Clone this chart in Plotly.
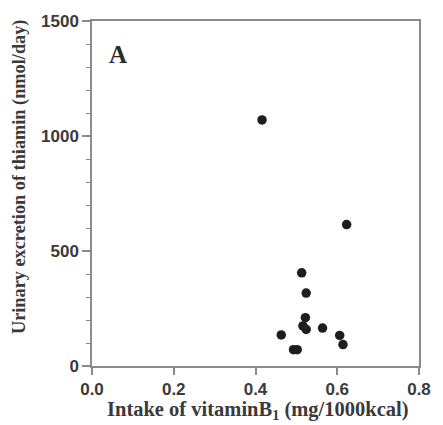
import plotly.graph_objects as go

intake = [0.416, 0.623, 0.513, 0.524, 0.522, 0.516, 0.524, 0.564, 0.463, 0.606, 0.614, 0.493, 0.502]
excretion = [1070, 615, 405, 317, 210, 174, 159, 165, 135, 133, 93, 71, 71]

x_ticks = [0.0, 0.2, 0.4, 0.6, 0.8]
x_labels = ["0.0", "0.2", "0.4", "0.6", "0.8"]
y_ticks = [0, 500, 1000, 1500]
y_labels = ["0", "500", "1000", "1500"]

W, H = 443, 425
L, R, T, B = 92, 17, 21, 59
pw, ph = W - L - R, H - T - B

fig = go.Figure()
fig.add_trace(go.Scatter(
    x=intake, y=excretion, mode="markers",
    marker=dict(size=9.5, color="#1e1e1e", line=dict(width=0)),
    showlegend=False, hoverinfo="x+y"))

axis_col = "#8a8a8a"
tick_font = dict(family="Liberation Sans, Arial", size=17, color="#3a3a3a")
title_col = "#3a3a3a"
serif = "Liberation Serif, Times New Roman"

fig.update_layout(
    width=W, height=H,
    margin=dict(l=L, r=R, t=T, b=B),
    paper_bgcolor="white", plot_bgcolor="white",
    xaxis=dict(range=[0, 0.8], tickvals=x_ticks, ticktext=["<b>%s</b>" % t for t in x_labels],
               showgrid=False, zeroline=False, showline=True, linecolor=axis_col,
               linewidth=1.5, mirror=True, ticks="outside", ticklen=7, tickwidth=1.5,
               tickcolor=axis_col, tickfont=tick_font),
    yaxis=dict(range=[0, 1500], tickvals=y_ticks, ticktext=["<b>%s</b>" % t for t in y_labels],
               showgrid=False, zeroline=False, showline=True, linecolor=axis_col,
               linewidth=1.5, mirror=True, ticks="outside", ticklen=8, tickwidth=1.5,
               tickcolor=axis_col, tickfont=tick_font,
               minor=dict(dtick=100, ticks="outside", ticklen=4, tickwidth=1.2,
                          tickcolor=axis_col, showgrid=False)),
)

fig.add_annotation(text="<b>Intake of vitaminB<sub>1</sub> (mg/1000kcal)</b>",
                   xref="paper", yref="paper", x=(262 - L) / pw, y=-(411 - (T + ph)) / ph,
                   xanchor="center", yanchor="middle", showarrow=False,
                   font=dict(family=serif, size=20.5, color=title_col))
fig.add_annotation(text="<b>Urinary excretion of thiamin (nmol/day)</b>",
                   xref="paper", yref="paper", x=(18 - L) / pw, y=((T + ph) - 177.5) / ph,
                   xanchor="center", yanchor="middle", textangle=-90, showarrow=False,
                   font=dict(family=serif, size=18.3, color=title_col))
fig.add_annotation(text="<b>A</b>", xref="paper", yref="paper", x=(107 - L) / pw,
                   y=((T + ph) - 55) / ph, xanchor="left", yanchor="middle",
                   showarrow=False,
                   font=dict(family=serif, size=25, color="#2a2a2a"))

fig.write_html("out.html")
